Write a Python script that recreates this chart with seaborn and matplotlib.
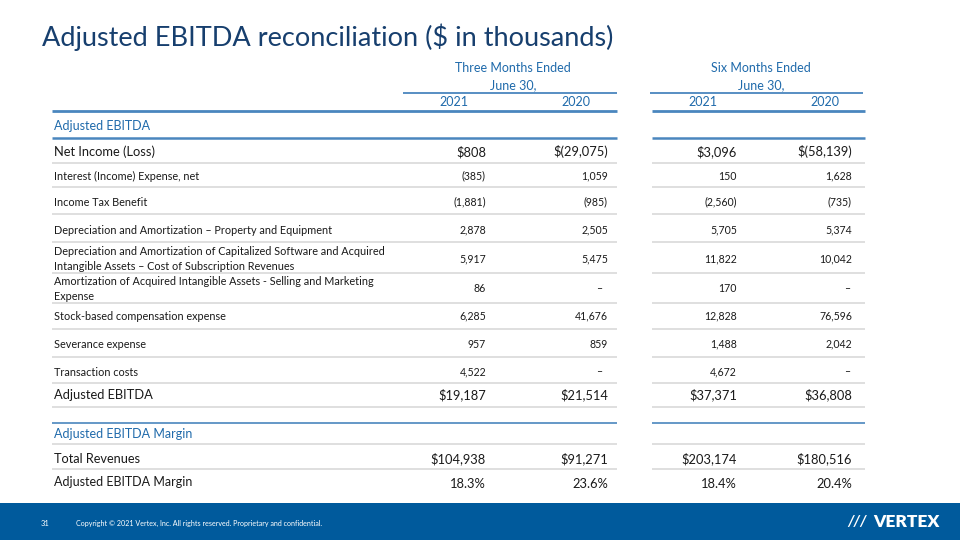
import matplotlib
matplotlib.use("Agg")
import matplotlib.pyplot as plt
import seaborn as sns

# ---------------- data ----------------
title = "Adjusted EBITDA reconciliation ($ in thousands)"
period_headers = ["Three Months Ended\nJune 30,", "Six Months Ended\nJune 30,"]
years = ["2021", "2020", "2021", "2020"]

row_labels = [
    "Net Income (Loss)",
    "Interest (Income) Expense, net",
    "Income Tax Benefit",
    "Depreciation and Amortization \u2013 Property and Equipment",
    "Depreciation and Amortization of Capitalized Software and Acquired\nIntangible Assets \u2013 Cost of Subscription Revenues",
    "Amortization of Acquired Intangible Assets - Selling and Marketing\nExpense",
    "Stock-based compensation expense",
    "Severance expense",
    "Transaction costs",
    "Adjusted EBITDA",
]
q_2021 = [808, -385, -1881, 2878, 5917, 86, 6285, 957, 4522, 19187]
q_2020 = [-29075, 1059, -985, 2505, 5475, None, 41676, 859, None, 21514]
h_2021 = [3096, 150, -2560, 5705, 11822, 170, 12828, 1488, 4672, 37371]
h_2020 = [-58139, 1628, -735, 5374, 10042, None, 76596, 2042, None, 36808]
dollar_rows = [0, 9]

margin_labels = ["Total Revenues", "Adjusted EBITDA Margin"]
rev = [104938, 91271, 203174, 180516]
margin_pct = [18.3, 23.6, 18.4, 20.4]

copyright_text = "Copyright \u00a9 2021 Vertex, Inc. All rights reserved. Proprietary and confidential."
page_no = "31"

# ---------------- style ----------------
sns.set_theme(style="white")
plt.rcParams["font.family"] = ["Lato", "DejaVu Sans"]

TITLE_C = "#173f6e"
BLUE = "#1f6aab"
LINE_BLUE = "#4a86be"
GRAY_LINE = "#dcdcdc"
TXT = "#1a1a1a"
FOOT = "#005a9c"

fig = plt.figure(figsize=(9.6, 5.4), dpi=100)
ax = fig.add_axes([0, 0, 1, 1])
ax.set_xlim(0, 960)
ax.set_ylim(540, 0)
ax.axis("off")


def fmt(v, dollar=False):
    if v is None:
        return "\u2013"
    s = f"{abs(v):,}"
    if v < 0:
        s = f"({s})"
    return ("$" + s) if dollar else s


col_right = [486, 608, 737, 852]
dash_right = [602, 602, 850, 850]
year_cx = [454, 576, 703, 825]
seg = [(52, 617), (652, 865)]

# title
ax.text(42, 37, title, fontsize=19.5, color=TITLE_C, va="center", ha="left")

# period headers
ax.text(513, 76.5, period_headers[0], fontsize=9, color=BLUE, ha="center", va="center", linespacing=1.5)
ax.text(761, 76.5, period_headers[1], fontsize=9, color=BLUE, ha="center", va="center", linespacing=1.5)
ax.hlines(93, 403, 617, color=LINE_BLUE, lw=1.3)
ax.hlines(93, 650, 863, color=LINE_BLUE, lw=1.3)
for cx, y in zip(year_cx, years):
    ax.text(cx, 102, y, fontsize=9, color=BLUE, ha="center", va="center")


def seg_line(y, color, lw):
    for a, b in seg:
        ax.hlines(y, a, b, color=color, lw=lw)


seg_line(111, LINE_BLUE, 2.0)
ax.text(54, 126, "Adjusted EBITDA", fontsize=9, color=BLUE, va="center")
seg_line(138, LINE_BLUE, 1.8)

row_y = [152, 176, 202, 230, 259, 289, 316, 344, 372, 395]
line_y = [163, 187, 214, 242, 273, 303, 329, 357, 383, 407]
cols = [q_2021, q_2020, h_2021, h_2020]
for i, (lab, y, ly) in enumerate(zip(row_labels, row_y, line_y)):
    big = i in dollar_rows
    lfs = 9.3 if big else 7.8
    vfs = 9.3 if big else 7.6
    ax.text(54, y, lab, fontsize=lfs, color=TXT, va="center", ha="left", linespacing=1.4)
    for c, col in enumerate(cols):
        v = col[i]
        xr = dash_right[c] if v is None else col_right[c]
        ax.text(xr, y, fmt(v, big), fontsize=vfs, color=TXT, va="center", ha="right")
    seg_line(ly, GRAY_LINE, 1.3)

seg_line(423, LINE_BLUE, 1.2)
ax.text(54, 434, "Adjusted EBITDA Margin", fontsize=9, color=BLUE, va="center")
seg_line(444, GRAY_LINE, 1.3)

ax.text(54, 459, margin_labels[0], fontsize=9.2, color=TXT, va="center")
for c in range(4):
    ax.text(col_right[c], 459, fmt(rev[c], True), fontsize=9.3, color=TXT, va="center", ha="right")
seg_line(469, GRAY_LINE, 1.3)
ax.text(54, 482, margin_labels[1], fontsize=9.0, color=TXT, va="center")
for c in range(4):
    ax.text(col_right[c], 484, f"{margin_pct[c]:.1f}%", fontsize=9.3, color=TXT, va="center", ha="right")

# footer band
ax.add_patch(plt.Rectangle((0, 503), 960, 37, color=FOOT, lw=0))
ax.text(45, 523, page_no, fontsize=5.5, color="white", va="center", ha="center")
ax.text(76, 523, copyright_text, fontsize=5.1, color="white", va="center", ha="left")
ax.text(940, 522, "VERTEX", fontsize=12.5, color="white", va="center", ha="right", fontweight="heavy")
ax.text(867, 522, "///", fontsize=11, color="white", va="center", ha="right", fontweight="bold", style="italic")

fig.savefig("out.png", dpi=100)
